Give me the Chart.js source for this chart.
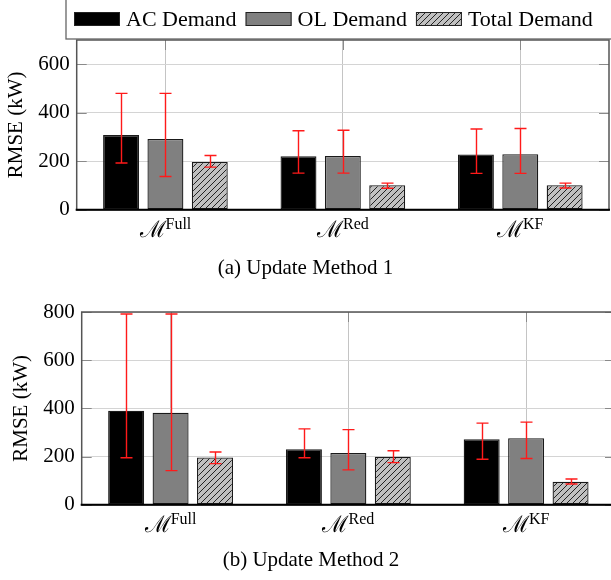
<!DOCTYPE html>
<html>
<head>
<meta charset="utf-8">
<script src="https://cdn.jsdelivr.net/npm/chart.js@4/dist/chart.umd.min.js"></script>
<style>
  html, body { margin: 0; padding: 0; background: #fff; overflow: hidden; width: 611px; height: 580px; }
  .wrap { position: absolute; left: 0; }
</style>
</head>
<body>
<div class="wrap" style="top:0"><canvas id="chart1" width="611" height="290"></canvas></div>
<div class="wrap" style="top:290px"><canvas id="chart2" width="620" height="290"></canvas></div>
<script>
// ---------------------------------------------------------------------------
// Data
// ---------------------------------------------------------------------------

const categories = ['Full', 'Red', 'KF'];
const seriesNames = ['AC Demand', 'OL Demand', 'Total Demand'];

// (a) Update Method 1
const acMean1 = [308, 221, 228];
const acLow1  = [193, 151, 150];
const acHigh1 = [480, 326, 333];
const olMean1 = [292, 222, 229];
const olLow1  = [137, 151, 150];
const olHigh1 = [480, 328, 335];
const totMean1 = [197, 101, 101];
const totLow1  = [176, 89, 90];
const totHigh1 = [224, 110, 110];

// (b) Update Method 2
const acMean2 = [390, 231, 272];
const acLow2  = [195, 195, 189];
const acHigh2 = [792, 315, 339];
const olMean2 = [382, 215, 276];
const olLow2  = [142, 145, 192];
const olHigh2 = [792, 312, 343];
const totMean2 = [196, 199, 96];
const totLow2  = [171, 175, 86];
const totHigh2 = [219, 224, 107];

const yTicks1 = [0, 200, 400, 600];
const yTicks2 = [0, 200, 400, 600, 800];

// ---------------------------------------------------------------------------
// Styling helpers
// ---------------------------------------------------------------------------

const SERIF = '"Liberation Serif", "Times New Roman", serif';

function hatchPattern() {
  const c = document.createElement('canvas');
  c.width = 6; c.height = 6;
  const g = c.getContext('2d');
  g.fillStyle = '#c0c0c0';
  g.fillRect(0, 0, 6, 6);
  g.strokeStyle = '#111';
  g.lineWidth = 0.9;
  g.beginPath();
  g.moveTo(0, 6); g.lineTo(6, 0);
  g.moveTo(-1, 1); g.lineTo(1, -1);
  g.moveTo(5, 7); g.lineTo(7, 5);
  g.stroke();
  return g.createPattern(c, 'repeat');
}

const fills = ['#000000', '#808080', hatchPattern()];

// inward tick marks on all four sides (drawn under the bars)
const frameTicks = {
  id: 'frameTicks',
  beforeDatasetsDraw(chart) {
    const { ctx, chartArea: a, scales: { x, y } } = chart;
    ctx.save();
    ctx.strokeStyle = '#8a8a8a';
    ctx.lineWidth = 1;
    ctx.beginPath();
    y.ticks.forEach((t, i) => {
      const py = Math.round(y.getPixelForTick(i)) + 0.5;
      ctx.moveTo(a.left, py); ctx.lineTo(a.left + 10, py);
      ctx.moveTo(a.right, py); ctx.lineTo(a.right - 10, py);
    });
    x.ticks.forEach((t, i) => {
      const px = Math.round(x.getPixelForTick(i)) + 0.5;
      ctx.moveTo(px, a.top); ctx.lineTo(px, a.top + 10);
      ctx.moveTo(px, a.bottom); ctx.lineTo(px, a.bottom - 10);
    });
    ctx.stroke();
    ctx.restore();
  },
  afterDatasetsDraw(chart) {
    const { ctx, chartArea: a } = chart;
    ctx.save();
    ctx.strokeStyle = '#555';
    ctx.lineWidth = 1.5;
    ctx.strokeRect(a.left, a.top, a.right - a.left, a.bottom - a.top);
    ctx.strokeStyle = '#000';
    ctx.lineWidth = 2;
    ctx.beginPath();
    ctx.moveTo(a.left - 1, a.bottom); ctx.lineTo(a.right + 1, a.bottom);
    ctx.stroke();
    ctx.restore();
  },
};

// red error bars from the errLow / errHigh arrays on each dataset
const errorBars = {
  id: 'errorBars',
  afterDatasetsDraw(chart) {
    const { ctx, scales: { y } } = chart;
    ctx.save();
    ctx.strokeStyle = '#ff1a1a';
    ctx.lineWidth = 1.4;
    chart.data.datasets.forEach((ds, di) => {
      chart.getDatasetMeta(di).data.forEach((bar, j) => {
        const yl = y.getPixelForValue(ds.errLow[j]);
        const yh = y.getPixelForValue(ds.errHigh[j]);
        const cx = Math.round(bar.x) + 0.5;
        ctx.beginPath();
        ctx.moveTo(cx, yl); ctx.lineTo(cx, yh);
        ctx.moveTo(cx - 6, yl); ctx.lineTo(cx + 6, yl);
        ctx.moveTo(cx - 6, yh); ctx.lineTo(cx + 6, yh);
        ctx.stroke();
      });
    });
    ctx.restore();
  },
};

// category labels: script M with a superscript name
const mathLabels = {
  id: 'mathLabels',
  afterDraw(chart) {
    const { ctx, chartArea: a, scales: { x } } = chart;
    ctx.save();
    ctx.fillStyle = '#000';
    ctx.textBaseline = 'alphabetic';
    ctx.textAlign = 'left';
    x.ticks.forEach((t, i) => {
      const sup = chart.data.labels[i];
      const cx = x.getPixelForTick(i);
      ctx.font = '23px "DejaVu Serif", serif';
      const wM = ctx.measureText('\u2133').width - 1;
      ctx.font = '16px ' + SERIF;
      const wS = ctx.measureText(sup).width;
      const x0 = cx - (wM + wS) / 2;
      ctx.font = '23px "DejaVu Serif", serif';
      ctx.fillText('\u2133', x0, a.bottom + 27);
      ctx.font = '16px ' + SERIF;
      ctx.fillText(sup, x0 + wM, a.bottom + 19);
    });
    ctx.restore();
  },
};

// framed legend strip above the first panel
const topLegend = {
  id: 'topLegend',
  afterDraw(chart) {
    const { ctx } = chart;
    ctx.save();
    ctx.fillStyle = '#fff';
    ctx.fillRect(66, -5, 600, 44);
    ctx.strokeStyle = '#666';
    ctx.lineWidth = 1.3;
    ctx.strokeRect(66, -5, 600, 44);
    ctx.font = '22px ' + SERIF;
    ctx.textBaseline = 'middle';
    let px = 74;
    chart.data.datasets.forEach(ds => {
      ctx.fillStyle = ds.backgroundColor;
      ctx.fillRect(px, 12, 46, 14);
      ctx.strokeStyle = '#222';
      ctx.lineWidth = 1;
      ctx.strokeRect(px + 0.5, 12.5, 45, 13);
      ctx.fillStyle = '#000';
      ctx.fillText(ds.label, px + 52, 20);
      px += 52 + ctx.measureText(ds.label).width + 9;
    });
    ctx.restore();
  },
};

// ---------------------------------------------------------------------------
// Chart factory
// ---------------------------------------------------------------------------

function makeChart(id, means, lows, highs, opts) {
  const datasets = seriesNames.map((name, i) => ({
    label: name,
    data: means[i],
    errLow: lows[i],
    errHigh: highs[i],
    backgroundColor: fills[i],
    borderColor: '#1a1a1a',
    borderWidth: 1.3,
    borderSkipped: false,
  }));

  return new Chart(document.getElementById(id), {
    type: 'bar',
    data: { labels: categories, datasets },
    plugins: opts.plugins,
    options: {
      responsive: false,
      animation: false,
      events: [],
      layout: { padding: opts.padding },
      datasets: { bar: { categoryPercentage: 0.75, barPercentage: 0.81 } },
      plugins: {
        legend: { display: false },
        tooltip: { enabled: false },
        title: {
          display: true,
          position: 'bottom',
          text: opts.caption,
          color: '#000',
          font: { family: SERIF, size: 21, weight: 'normal' },
          padding: opts.titlePad,
        },
      },
      scales: {
        x: {
          grid: { offset: false, color: '#c4c4c4', drawTicks: false },
          border: { display: false },
          ticks: { display: false },
        },
        y: {
          min: 0,
          max: opts.max,
          grid: { color: '#d4d4d4', drawTicks: false },
          border: { display: false },
          ticks: {
            stepSize: 100,
            padding: 7,
            color: '#000',
            font: { family: SERIF, size: 21 },
            callback: v => (opts.ticks.includes(v) ? String(v) : ''),
          },
          title: {
            display: true,
            text: 'RMSE (kW)',
            color: '#000',
            font: { family: SERIF, size: 21 },
            padding: 2,
          },
        },
      },
    },
  });
}

makeChart('chart1',
  [acMean1, olMean1, totMean1],
  [acLow1, olLow1, totLow1],
  [acHigh1, olHigh1, totHigh1],
  {
    max: 700,
    ticks: yTicks1,
    caption: '(a) Update Method 1',
    padding: { left: 2, right: 2, top: 40, bottom: 0 },
    titlePad: { top: 46, bottom: 9 },
    plugins: [frameTicks, errorBars, mathLabels, topLegend],
  });

makeChart('chart2',
  [acMean2, olMean2, totMean2],
  [acLow2, olLow2, totLow2],
  [acHigh2, olHigh2, totHigh2],
  {
    max: 800,
    ticks: yTicks2,
    caption: '(b) Update Method 2',
    padding: { left: 7, right: 5, top: 22, bottom: 0 },
    titlePad: { top: 43, bottom: 7 },
    plugins: [frameTicks, errorBars, mathLabels],
  });
</script>
</body>
</html>
